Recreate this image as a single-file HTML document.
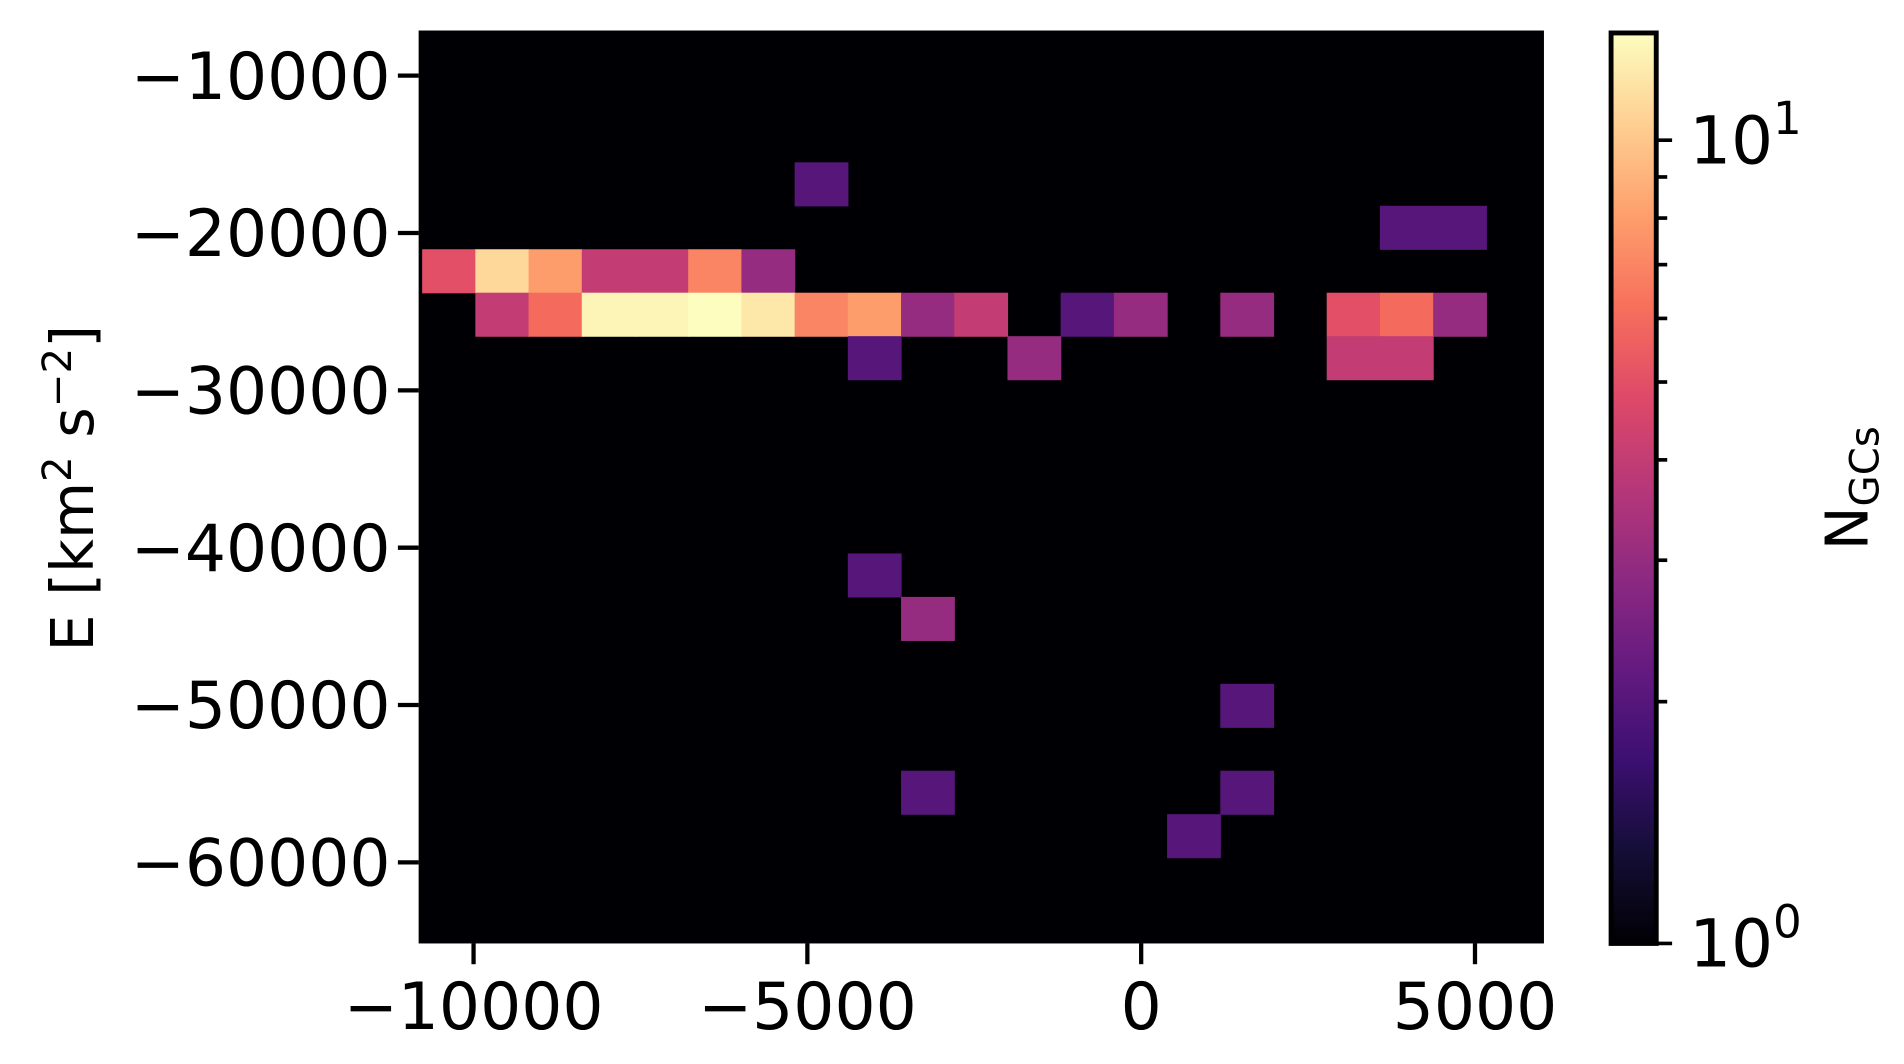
<!DOCTYPE html>
<html><head><meta charset="utf-8"><style>
html,body{margin:0;padding:0;background:#fff;}
svg{display:block;font-family:"DejaVu Sans","Liberation Sans",sans-serif;}
</style></head><body>
<svg id="chart" width="1904" height="1064" viewBox="0 0 1560 871.76" xmlns="http://www.w3.org/2000/svg">
<defs>
<linearGradient id="magma" x1="0" y1="1" x2="0" y2="0">
<stop offset="0" stop-color="#000004"/><stop offset="0.1" stop-color="#140e36"/><stop offset="0.2" stop-color="#3b0f70"/><stop offset="0.3" stop-color="#641a80"/><stop offset="0.4" stop-color="#8c2981"/><stop offset="0.5" stop-color="#b73779"/><stop offset="0.6" stop-color="#de4968"/><stop offset="0.7" stop-color="#f7705c"/><stop offset="0.8" stop-color="#fe9f6d"/><stop offset="0.9" stop-color="#fecf92"/><stop offset="1" stop-color="#fcfdbf"/>
</linearGradient>
</defs>
<rect x="343" y="25" width="922" height="748" fill="#000004"/>
<g id="cells"></g>
<g id="xaxis"></g>
<g id="yaxis"></g>
<text transform="translate(76,400) rotate(-90)" text-anchor="middle" font-size="48" fill="#000">E [km<tspan dy="-18" font-size="33">2</tspan><tspan dy="18"> s</tspan><tspan dy="-18" font-size="33">−2</tspan><tspan dy="18">]</tspan></text>
<rect x="1320" y="27" width="37" height="746" fill="url(#magma)" stroke="#000" stroke-width="4"/>
<g id="cbticks"></g>
<text transform="translate(1530,400) rotate(-90)" text-anchor="middle" font-size="48" fill="#000">N<tspan font-size="33" dy="9">GCs</tspan></text>
</svg>
<script>
const xTicks=[-10000,-5000,0,5000];
const yTicks=[-10000,-20000,-30000,-40000,-50000,-60000];
const cellCol=[7,18,19,0,1,2,3,4,5,6,1,2,3,4,5,6,7,8,9,10,12,13,15,17,18,19,8,11,17,18,8,9,15,9,15,14];
const cellRow=[0,1,1,2,2,2,2,2,2,2,3,3,3,3,3,3,3,3,3,3,3,3,3,3,3,3,4,4,4,4,9,10,12,14,14,15];
const cellCount=[2,2,2,5,11,8,4,4,7,3,4,6,13,13,14,12,7,8,3,4,2,3,3,5,6,3,2,3,4,4,2,3,2,2,2,2];
const binX0=-10770, binW=797, binY0=-15508, binH=2762;
const vmin=1, vmax=13.6;
const NS="http://www.w3.org/2000/svg";
function xs(v){return 388+(v+10000)*0.0547;}
function ys(v){return 62+(-10000-v)*0.012891;}
function cb(v){return 773-Math.log10(v/vmin)/Math.log10(vmax/vmin)*746;}
const stops=[[0,0,0,4],[.1,20,14,54],[.2,59,15,112],[.3,100,26,128],[.4,140,41,129],[.5,183,55,121],[.6,222,73,104],[.7,247,112,92],[.8,254,159,109],[.9,254,207,146],[1,252,253,191]];
function magma(t){t=Math.max(0,Math.min(1,t));for(let i=1;i<stops.length;i++){if(t<=stops[i][0]){const a=stops[i-1],b=stops[i],f=(t-a[0])/(b[0]-a[0]);return `rgb(${[1,2,3].map(k=>Math.round(a[k]+f*(b[k]-a[k]))).join(',')})`;}}return 'rgb(252,253,191)';}
function mk(tag,attrs,parent){const e=document.createElementNS(NS,tag);for(const k in attrs)e.setAttribute(k,attrs[k]);parent.appendChild(e);return e;}
const cells=document.getElementById('cells');
for(let i=0;i<cellCount.length;i++){
  const x0=binX0+cellCol[i]*binW, x1=x0+binW;
  const yTop=binY0-cellRow[i]*binH, yBot=yTop-binH;
  const t=Math.log10(cellCount[i]/vmin)/Math.log10(vmax/vmin);
  const r=mk('rect',{x:xs(x0),y:ys(yTop),width:xs(x1)-xs(x0)+0.5,height:ys(yBot)-ys(yTop)+0.5,fill:magma(t)},cells);
  
  
}
const xa=document.getElementById('xaxis');
xTicks.forEach(v=>{
  const l=mk('line',{x1:xs(v),x2:xs(v),y1:773,y2:790,stroke:'#000','stroke-width':3.5},xa);
  
  
  const t=mk('text',{x:xs(v),y:843,'text-anchor':'middle','font-size':53,fill:'#000'},xa);
  t.textContent=(v<0?'−':'')+Math.abs(v);
  
  
});
const ya=document.getElementById('yaxis');
yTicks.forEach(v=>{
  const l=mk('line',{x1:326,x2:343,y1:ys(v),y2:ys(v),stroke:'#000','stroke-width':3.5},ya);
  
  
  const t=mk('text',{x:320,y:ys(v)+19,'text-anchor':'end','font-size':53,fill:'#000'},ya);
  t.textContent='−'+Math.abs(v);
  
  
});
const cg=document.getElementById('cbticks');
[2,3,4,5,6,7,8,9,10].forEach(v=>{
  const major=(v===10);
  const l=mk('line',{x1:1357,x2:major?1370:1366,y1:cb(v),y2:cb(v),stroke:'#000','stroke-width':3},cg);
  
  
});
mk('line',{x1:1357,x2:1370,y1:773,y2:773,stroke:'#000','stroke-width':3},cg);
[[1,'0'],[10,'1']].forEach(([v,e])=>{
  const t=mk('text',{x:1384,y:cb(v)+19,'font-size':54,fill:'#000'},cg);
  t.innerHTML='10<tspan dy="-24" font-size="37">'+e+'</tspan>';
  
  
});
</script>
</body></html>
